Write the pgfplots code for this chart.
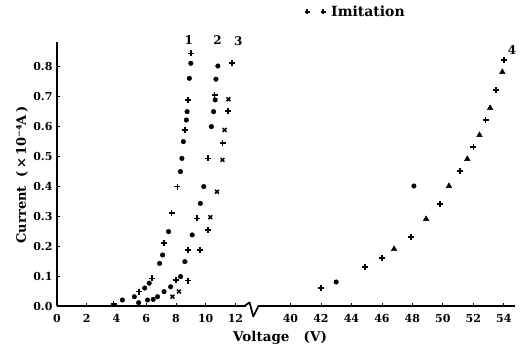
\documentclass[border=0pt]{standalone}
\usepackage{fontspec}
\setmainfont{DejaVu Serif}
\usepackage{pgfplots}
\usepackage{pgfplotstable}
\pgfplotsset{compat=1.18}

% Curve 1
\pgfplotstableread{
V I
3.8 0.007
5.5 0.048
6.4 0.092
7.2 0.209
7.7 0.309
8.1 0.398
8.6 0.587
8.8 0.687
9.0 0.842
}\cOnePlus
\pgfplotstableread{
V I
4.4 0.020
5.2 0.031
5.9 0.060
6.2 0.076
6.9 0.142
7.1 0.170
7.5 0.248
8.3 0.448
8.4 0.492
8.5 0.548
8.7 0.620
8.75 0.648
8.9 0.759
9.0 0.809
}\cOneDot
% Curve 2
\pgfplotstableread{
V I
7.98 0.087
8.82 0.187
9.42 0.292
10.16 0.492
10.6 0.703
}\cTwoPlus
\pgfplotstableread{
V I
5.49 0.011
6.09 0.020
6.47 0.022
6.76 0.031
7.2 0.048
7.64 0.064
8.31 0.098
8.6 0.148
9.09 0.237
9.64 0.342
9.87 0.398
10.38 0.598
10.53 0.648
10.64 0.687
10.69 0.756
10.82 0.800
}\cTwoDot
% Curve 3
\pgfplotstableread{
V I
8.8 0.085
9.64 0.187
10.16 0.253
11.13 0.544
11.49 0.651
11.76 0.809
}\cThreePlus
\pgfplotstableread{
V I
7.76 0.031
8.2 0.048
10.31 0.296
10.76 0.381
11.13 0.487
11.27 0.587
11.53 0.689
}\cThreeX
% Curve 4
\pgfplotstableread{
V I
42.0 0.06
44.9 0.13
46.0 0.16
47.9 0.23
49.8 0.34
51.1 0.45
52.0 0.53
52.8 0.62
53.5 0.72
54.0 0.82
}\cFourPlus
\pgfplotstableread{
V I
46.8 0.19
48.9 0.29
50.4 0.40
51.6 0.49
52.4 0.57
53.1 0.66
53.9 0.78
}\cFourTri
\pgfplotstableread{
V I
43.0 0.08
48.1 0.40
}\cFourDot

\begin{document}
\begin{tikzpicture}[font=\bfseries]
\begin{axis}[
  scale only axis, width=458pt, height=264pt,
  xmin=0, xmax=30.8, ymin=0, ymax=0.88,
  axis x line=bottom, axis y line=left,
  axis line style={-, line width=1.7pt},
  xtick={0,2,4,6,8,10,12,15.7,17.75,19.8,21.85,23.9,25.95,28,30.05},
  xticklabels={0,2,4,6,8,10,12,40,42,44,46,48,50,52,54},
  ytick={0,0.1,0.2,0.3,0.4,0.5,0.6,0.7,0.8},
  yticklabels={0.0,0.1,0.2,0.3,0.4,0.5,0.6,0.7,0.8},
  tick style={black, line width=0.8pt},
  major tick length=3pt,
  tick align=inside,
  ticklabel style={font=\bfseries\fontsize{11}{11}\selectfont},
  xticklabel style={yshift=-5pt},
  yticklabel style={xshift=-1pt},
  xlabel={Voltage\ \ \ (V)},
  xlabel style={at={(axis description cs:0.487,-0.121)}, anchor=center, font=\bfseries\fontsize{13.5}{13.5}\selectfont},
  ylabel={Current\ \ (\,×\,10⁻⁴A\,)},
  ylabel style={at={(axis description cs:-0.0764,0.496)}, anchor=center, font=\bfseries\fontsize{13}{13}\selectfont},
  clip=false,
  legend style={at={(0.54,1.114)}, anchor=west, draw=none, fill=none,
    font=\bfseries\fontsize{14}{14}\selectfont, inner sep=0pt},
  legend image code/.code={\draw[mark repeat=1,#1] plot coordinates {(0pt,0pt) (16pt,0pt)}; \path (22pt,0pt);},
  plusmark/.style={only marks, mark=+, mark size=3pt, mark options={line width=1.7pt}},
  dotmark/.style={only marks, mark=*, mark size=2.3pt},
  xmark/.style={only marks, mark=x, mark size=2.7pt, mark options={line width=1.5pt}},
  trimark/.style={only marks, mark=triangle*, mark size=3.2pt},
]
\addlegendimage{only marks, mark=+, mark size=2.5pt, mark options={line width=1.5pt}, black}
\addlegendentry{Imitation}

\addplot[plusmark, black, forget plot] table[x=V, y=I] {\cOnePlus};
\addplot[dotmark, black, forget plot] table[x=V, y=I] {\cOneDot};
\addplot[plusmark, black, forget plot] table[x=V, y=I] {\cTwoPlus};
\addplot[dotmark, black, forget plot] table[x=V, y=I] {\cTwoDot};
\addplot[plusmark, black, forget plot] table[x=V, y=I] {\cThreePlus};
\addplot[xmark, black, forget plot] table[x=V, y=I] {\cThreeX};
\addplot[plusmark, black, forget plot] table[x expr={15.7+(\thisrow{V}-40)*1.025}, y=I] {\cFourPlus};
\addplot[trimark, black, forget plot] table[x expr={15.7+(\thisrow{V}-40)*1.025}, y=I] {\cFourTri};
\addplot[dotmark, black, forget plot] table[x expr={15.7+(\thisrow{V}-40)*1.025}, y=I] {\cFourDot};

% axis break
\fill[white] (axis cs:12.7,-0.012) rectangle (axis cs:13.5,0.012);
\draw[line width=1.7pt, line join=round] (axis cs:12.6,0) -- (axis cs:12.95,0.012) -- (axis cs:13.2,-0.035) -- (axis cs:13.55,0);

\node[font=\bfseries\fontsize{12}{12}\selectfont] at (axis cs:8.87,0.887) {1};
\node[font=\bfseries\fontsize{12}{12}\selectfont] at (axis cs:10.8,0.887) {2};
\node[font=\bfseries\fontsize{12}{12}\selectfont] at (axis cs:12.2,0.883) {3};
\node[font=\bfseries\fontsize{12}{12}\selectfont] at (axis cs:30.6,0.853) {4};
\end{axis}
\pgfresetboundingbox
\path[use as bounding box] (-57pt,-50pt) rectangle (465pt,306pt);
\end{tikzpicture}
\end{document}
